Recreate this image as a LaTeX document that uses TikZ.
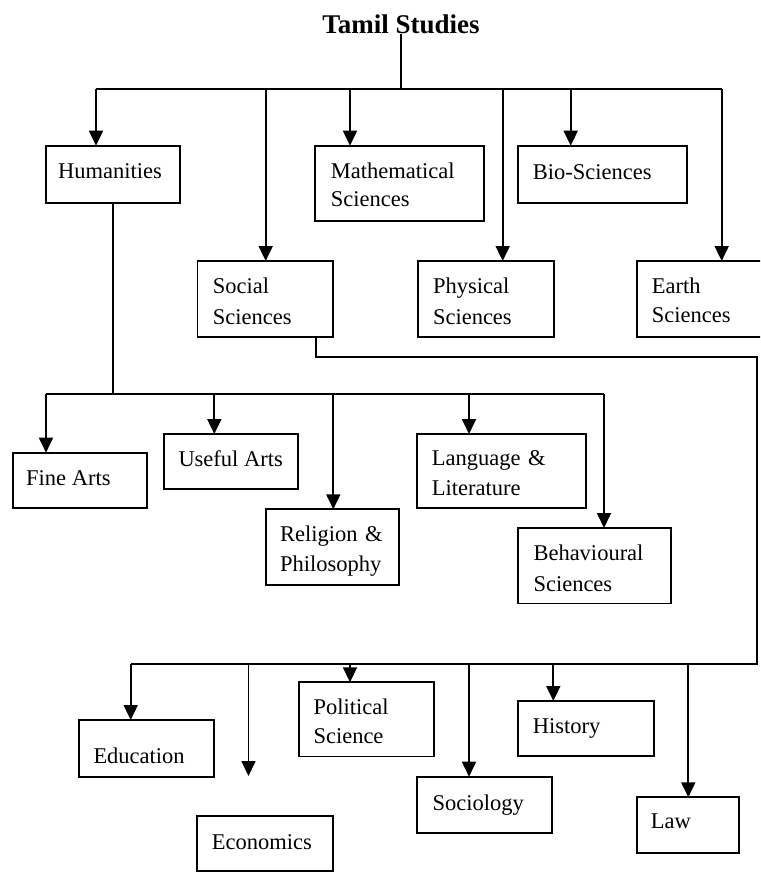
\documentclass[tikz,border=0pt]{standalone}
\usepackage{fontspec}
\setmainfont{Liberation Serif}
\usetikzlibrary{arrows.meta}
\newcommand\mybox[6]{%
  \pgfmathsetmacro\bw{#4-#2}%
  \pgfmathsetmacro\bh{#5-#3}%
  \node[boxs, minimum width=\bw pt, minimum height=\bh pt] (#1) at (#2,#3) {};
  \coordinate (#1-in) at ([xshift=#6pt]#1.north west);
}
\begin{document}
\begin{tikzpicture}[x=1pt,y=-1pt,
  ln/.style={line width=1.8pt},
  arr/.style={ln,-{Triangle[width=14pt,length=15pt]}},
  boxs/.style={draw, line width=1.8pt, rectangle, inner sep=0pt, outer sep=0pt, anchor=north west},
  lbl/.style={inner sep=0pt, anchor=base west, font=\fontsize{22.5}{30}\selectfont},
  lbl2/.style={lbl, text width=170pt, align=left},
  ttl/.style={inner sep=0pt, anchor=base, font=\fontsize{27}{32}\selectfont\bfseries}]
\useasboundingbox (0,0) rectangle (760,872);
\clip (0,0) rectangle (760,872);

% title
\node[ttl] (title) at (400.9,33.5) {Tamil Studies};

% boxes: name, x1, y1, x2, y2, arrow offset
\mybox{hum}{46}{145.7}{180}{202.7}{50}
\mybox{math}{315}{145.7}{484}{220.7}{35}
\mybox{bio}{518.3}{145.7}{687.3}{202.7}{52.4}
\mybox{soc}{197.5}{261}{333}{336.7}{68.2}
\mybox{phys}{418.3}{261}{554}{336.7}{84.4}
\mybox{earth}{636.7}{261}{766}{336.7}{85}
\mybox{fine}{12.7}{452.7}{146.7}{507.7}{33.3}
\mybox{use}{164}{434}{297.7}{489}{50.3}
\mybox{rel}{265.7}{509.3}{399}{585}{67.6}
\mybox{lang}{416.7}{434}{585.7}{507.7}{52.3}
\mybox{beh}{518.3}{528}{670.7}{603.5}{85.7}
\mybox{edu}{79}{720}{214.3}{777.3}{51.7}
\mybox{econ}{197.3}{816}{332.7}{870.7}{51}
\mybox{poli}{299}{682.3}{434}{756.5}{51}
\mybox{socio}{416.7}{776.7}{552.3}{833.3}{52.3}
\mybox{hist}{518.3}{701}{654}{756}{35}
\mybox{law}{636.7}{797.3}{739}{852.7}{51.6}

% labels
\node[lbl] (hum-t) at (58,178.3) {Humanities};
\node[lbl2] (math-t) at (330.7,178.3) {Mathematical\\[-1.5pt]Sciences};
\node[lbl] (bio-t) at (532.7,179) {Bio-Sciences};
\node[lbl2] (soc-t) at (212.7,293.3) {Social\\[0.7pt]Sciences};
\node[lbl2] (phys-t) at (432.8,293) {Physical\\[1pt]Sciences};
\node[lbl2] (earth-t) at (651.7,293.3) {Earth\\[-0.6pt]Sciences};
\node[lbl] (fine-t) at (26,485) {Fine Arts};
\node[lbl] (use-t) at (178.3,466.7) {Useful Arts};
\node[lbl2] (rel-t) at (280,541.7) {Religion \&\\Philosophy};
\node[lbl2] (lang-t) at (431.7,465) {Language \&\\Literature};
\node[lbl2] (beh-t) at (533.3,560) {Behavioural\\[1pt]Sciences};
\node[lbl] (edu-t) at (93.3,763.3) {Education};
\node[lbl] (econ-t) at (211.7,849.3) {Economics};
\node[lbl2] (poli-t) at (313.3,714) {Political\\[-0.7pt]Science};
\node[lbl] (socio-t) at (432.3,810) {Sociology};
\node[lbl] (hist-t) at (532.7,733.3) {History};
\node[lbl] (law-t) at (650.7,828.3) {Law};

% top level bus
\coordinate (tbL) at (96,89.3);
\coordinate (tbR) at (721.7,89.3);
\draw[ln] (title.south) -- (title.south |- tbL);
\draw[ln] (tbL) -- (tbR);
\foreach \n in {hum,math,bio,soc,phys,earth}
  \draw[arr] (\n-in |- tbL) -- (\n-in);

% humanities bus
\coordinate (hbL) at (46,394.3);
\coordinate (hbR) at (604,394.3);
\draw[ln] (hum.south) -- (hum.south |- hbL);
\draw[ln] (hbL) -- (hbR);
\foreach \n in {fine,use,rel,lang,beh}
  \draw[arr] (\n-in |- hbL) -- (\n-in);

% social sciences bus
\coordinate (sout) at ([xshift=118.2pt]soc.south west);
\coordinate (sR) at (756.7,356.7);
\coordinate (bR) at (756.7,664);
\coordinate (bL) at (130.7,664);
\draw[ln] (sout) |- (sR) -- (bR) -- (bL);
\foreach \n in {edu,poli,socio,hist,law}
  \draw[arr] (\n-in |- bL) -- (\n-in);
\coordinate (econ-end) at (248.5,776);
\draw[arr] (econ-end |- bL) -- (econ-end);
\end{tikzpicture}
\end{document}
